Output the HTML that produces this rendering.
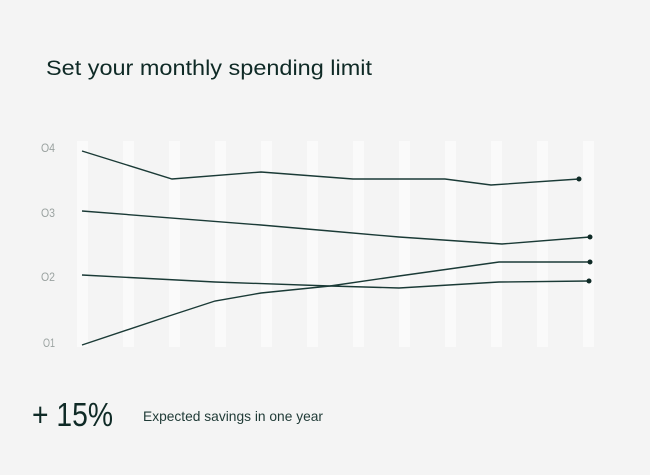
<!DOCTYPE html>
<html><head><style>
body{margin:0;width:650px;height:475px;background:#f4f4f4;overflow:hidden;font-family:"Liberation Sans",sans-serif;}
</style></head><body>
<svg width="650" height="475" xmlns="http://www.w3.org/2000/svg" style="position:absolute;left:0;top:0">
<rect width="650" height="475" fill="#f4f4f4"/>
<g fill="#fafafa">
<rect x="77" y="141" width="11" height="206"/><rect x="123" y="141" width="11" height="206"/>
<rect x="169" y="141" width="11" height="206"/><rect x="215" y="141" width="11" height="206"/>
<rect x="261" y="141" width="11" height="206"/><rect x="307" y="141" width="11" height="206"/>
<rect x="353" y="141" width="11" height="206"/><rect x="399" y="141" width="11" height="206"/>
<rect x="445" y="141" width="11" height="206"/><rect x="491" y="141" width="11" height="206"/>
<rect x="537" y="141" width="11" height="206"/><rect x="583" y="141" width="11" height="206"/>
</g>
<text x="46" y="75" font-size="21" fill="#0f2a26" textLength="326" lengthAdjust="spacingAndGlyphs">Set your monthly spending limit</text>
<g font-size="12" fill="#9aa2a0">
<text x="41" y="152" textLength="14" lengthAdjust="spacingAndGlyphs">O4</text><text x="41" y="217" textLength="14" lengthAdjust="spacingAndGlyphs">O3</text><text x="41" y="281" textLength="14" lengthAdjust="spacingAndGlyphs">O2</text><text x="43" y="347" textLength="12" lengthAdjust="spacingAndGlyphs">O1</text>
</g>
<g fill="none" stroke="#1a3a36" stroke-width="1.4">
<polyline points="82,151 172,179 261,172 353,179 445,179 491,185 579,179"/>
<polyline points="82,211 261,225 330,231 399,237 502,244 590,237"/>
<polyline points="82,275 215,282 330,286 399,288 499,282 589,281"/>
<polyline points="82,345 169,316 215,301 261,293 330,286 399,276 499,262 590,262"/>
</g>
<g fill="#0f2a26">
<circle cx="579" cy="179" r="2.5"/><circle cx="590" cy="237" r="2.5"/>
<circle cx="590" cy="262" r="2.5"/><circle cx="589" cy="281" r="2.5"/>
</g>
<text x="32" y="426" font-size="33" fill="#0f2a26" textLength="81" lengthAdjust="spacingAndGlyphs">+ 15%</text>
<text x="143" y="421" font-size="14" fill="#1f3a36" textLength="180" lengthAdjust="spacingAndGlyphs">Expected savings in one year</text>
</svg>
</body></html>
